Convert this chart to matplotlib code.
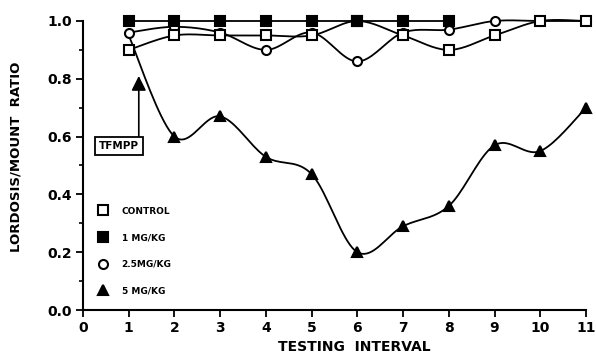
import matplotlib
matplotlib.use('Agg')
import matplotlib.pyplot as plt
from matplotlib.lines import Line2D
import numpy as np

plt.rcParams['font.family'] = 'DejaVu Sans'
plt.rcParams['font.weight'] = 'bold'

# Data
intervals = np.arange(1, 12)
control = [0.90, 0.95, 0.95, 0.95, 0.95, 1.00, 0.95, 0.90, 0.95, 1.00, 1.00]
mg1_x = np.arange(1, 9)
mg1 = [1.00, 1.00, 1.00, 1.00, 1.00, 1.00, 1.00, 1.00]
mg25 = [0.96, 0.98, 0.96, 0.90, 0.96, 0.86, 0.96, 0.97, 1.00, 1.00, 1.00]
mg5 = [0.95, 0.60, 0.67, 0.53, 0.47, 0.20, 0.29, 0.36, 0.57, 0.55, 0.70]

labels = ['CONTROL', '1 MG/KG', '2.5MG/KG', '5 MG/KG']


def smooth(x, y, n=20):
    # Catmull-Rom curve through the points, only for drawing the line
    x = np.asarray(x, float)
    y = np.asarray(y, float)
    px = np.concatenate([[x[0]], x, [x[-1]]])
    py = np.concatenate([[y[0]], y, [y[-1]]])
    t = np.linspace(0, 1, n)[:, None]
    xs, ys = [], []
    for i in range(1, len(px) - 2):
        for p, out in ((px, xs), (py, ys)):
            p0, p1, p2, p3 = p[i - 1], p[i], p[i + 1], p[i + 2]
            seg = 0.5 * ((2 * p1) + (-p0 + p2) * t + (2 * p0 - 5 * p1 + 4 * p2 - p3) * t ** 2
                         + (-p0 + 3 * p1 - 3 * p2 + p3) * t ** 3)
            out.append(seg.ravel())
    return np.concatenate(xs), np.concatenate(ys)


fig = plt.figure(figsize=(5.96, 3.6), dpi=100)
ax = fig.add_axes([83 / 596, 1 - 310 / 360, 503 / 596, 289 / 360])

lw = 1.3
ms = 6.5
for xv, yv, mk, fc in [(intervals, mg5, '^', 'black'),
                       (intervals, mg25, 'o', 'white'),
                       (intervals, control, 's', 'white'),
                       (mg1_x, mg1, 's', 'black')]:
    sx, sy = smooth(xv, yv)
    ax.plot(sx, sy, color='black', lw=lw, clip_on=False, zorder=2)
    start = 1 if mk == '^' else 0
    ax.plot(xv[start:], yv[start:], ls='none', marker=mk, ms=ms, mfc=fc, mec='black',
            mew=1.5, clip_on=False, zorder=3)

# TFMPP marker
ax.annotate('', xy=(1.22, 0.81), xytext=(1.22, 0.60),
            arrowprops=dict(arrowstyle='-|>', color='black', lw=1.2, mutation_scale=22,
                            shrinkA=0, shrinkB=0))
ax.text(0.79, 0.567, 'TFMPP', ha='center', va='center', fontsize=7.5, fontweight='bold',
        bbox=dict(boxstyle='square,pad=0.35', fc='white', ec='black', lw=1.3))

handles = [Line2D([], [], ls='none', marker='s', ms=ms, mfc='white', mec='black', mew=1.5),
           Line2D([], [], ls='none', marker='s', ms=ms, mfc='black', mec='black', mew=1.5),
           Line2D([], [], ls='none', marker='o', ms=ms, mfc='white', mec='black', mew=1.5),
           Line2D([], [], ls='none', marker='^', ms=ms, mfc='black', mec='black', mew=1.5)]
leg = ax.legend(handles, labels, loc='lower left', bbox_to_anchor=(0.023, 0.038), frameon=False,
                fontsize=6.5, labelspacing=1.95, handlelength=1.0, handletextpad=1.6,
                borderaxespad=0)
for t in leg.get_texts():
    t.set_fontweight('bold')

ax.set_xlim(0, 11)
ax.set_ylim(0, 1.0)
ax.set_xticks(range(0, 12))
ax.set_yticks(np.arange(0, 1.01, 0.2))
ax.set_yticks(np.arange(0.1, 1.0, 0.2), minor=True)
ax.set_yticklabels(['%.1f' % v for v in np.arange(0, 1.01, 0.2)])
ax.tick_params(axis='both', which='major', direction='out', length=5, width=1.3,
               labelsize=10, pad=3)
ax.tick_params(axis='y', which='minor', direction='out', length=3, width=1.2)
for lab in ax.get_xticklabels() + ax.get_yticklabels():
    lab.set_fontweight('bold')

for s in ['top', 'right']:
    ax.spines[s].set_visible(False)
for s in ['left', 'bottom']:
    ax.spines[s].set_linewidth(1.5)

ax.set_xlabel('TESTING  INTERVAL', fontsize=10, fontweight='bold')
ax.xaxis.set_label_coords(0.54, -0.105)
ax.set_ylabel('LORDOSIS/MOUNT  RATIO', fontsize=9.5, fontweight='bold')
ax.yaxis.set_label_coords(-0.12, 0.53)

fig.savefig('out.png', dpi=100)
